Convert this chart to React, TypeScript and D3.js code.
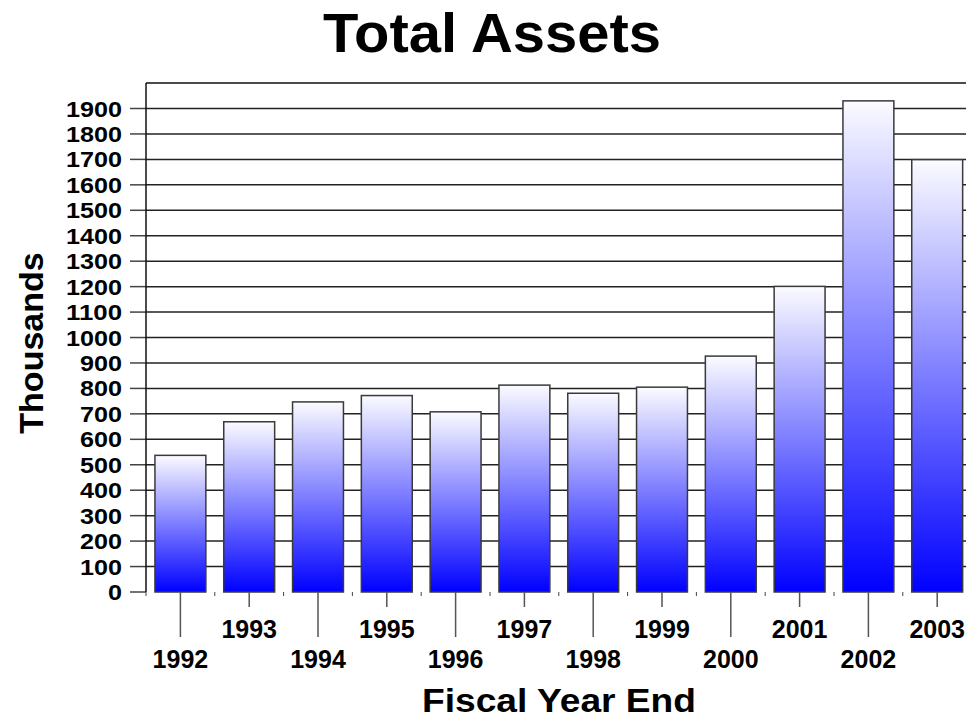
import React from "react";
import * as d3 from "d3";

const years = ["1992","1993","1994","1995","1996","1997","1998","1999","2000","2001","2002","2003"];
const assets = [537, 669, 747, 772, 708, 813, 781, 805, 927, 1201, 1930, 1699];
const yTicks = d3.range(0, 2000, 100);

const W = 966, H = 720;
const left = 146, right = 971.6, top = 83, bottom = 592;

export default function App() {
  const x = d3.scaleBand<string>().domain(years).range([left, right]).paddingInner(0.26).paddingOuter(0.13);
  const y = d3.scaleLinear().domain([0, 1900]).range([bottom, 108.5]);
  const font = "'Liberation Sans', Arial, sans-serif";
  return (
    <svg width={W} height={H} style={{ position: "absolute", left: 0, top: 0, background: "#fff" }}>
      <defs>
        <linearGradient id="barGrad" x1="0" y1="0" x2="0" y2="1">
          <stop offset="0%" stopColor="#fbfbff" />
          <stop offset="100%" stopColor="#0000ff" />
        </linearGradient>
      </defs>
      <text x={492} y={52} textAnchor="middle" fontFamily={font} fontWeight="bold" fontSize={56} textLength={338} lengthAdjust="spacingAndGlyphs">Total Assets</text>
      {yTicks.map((t) => (
        <g key={t}>
          {t > 0 && <line x1={left} x2={right} y1={y(t)} y2={y(t)} stroke="#222" strokeWidth={1.5} />}
          <line x1={130} x2={left} y1={y(t)} y2={y(t)} stroke="#444" strokeWidth={1.5} />
          <text x={122} y={y(t) + 8} textAnchor="end" fontFamily={font} fontWeight="bold" fontSize={22.5}
            textLength={String(t).length * 14} lengthAdjust="spacingAndGlyphs">{t}</text>
        </g>
      ))}
      <line x1={left} x2={right} y1={top} y2={top} stroke="#111" strokeWidth={1.5} />
      <line x1={left} x2={left} y1={top} y2={bottom} stroke="#111" strokeWidth={1.5} />
      {years.map((yr, i) => {
        const b = left + i * x.step();
        return <line key={"m" + yr} x1={b} x2={b} y1={bottom} y2={bottom + 4} stroke="#444" strokeWidth={1} />;
      })}
      {years.map((yr, i) => (
        <rect key={yr} x={x(yr)} y={y(assets[i])} width={x.bandwidth()} height={bottom - y(assets[i])}
          fill="url(#barGrad)" stroke="#3a3a3a" strokeWidth={1.5} />
      ))}
      {years.map((yr, i) => {
        const cx = (x(yr) as number) + x.bandwidth() / 2;
        const even = i % 2 === 0;
        return (
          <g key={"l" + yr}>
            <line x1={cx} x2={cx} y1={bottom} y2={even ? 637 : 607} stroke="#555" strokeWidth={1.5} />
            <text x={cx} y={even ? 668 : 638} textAnchor="middle" fontFamily={font} fontWeight="bold" fontSize={25}>{yr}</text>
          </g>
        );
      })}
      <text transform={`translate(43,343) rotate(-90)`} textAnchor="middle" fontFamily={font} fontWeight="bold" fontSize={34}>Thousands</text>
      <text x={559} y={712} textAnchor="middle" fontFamily={font} fontWeight="bold" fontSize={34} textLength={274} lengthAdjust="spacingAndGlyphs">Fiscal Year End</text>
    </svg>
  );
}
